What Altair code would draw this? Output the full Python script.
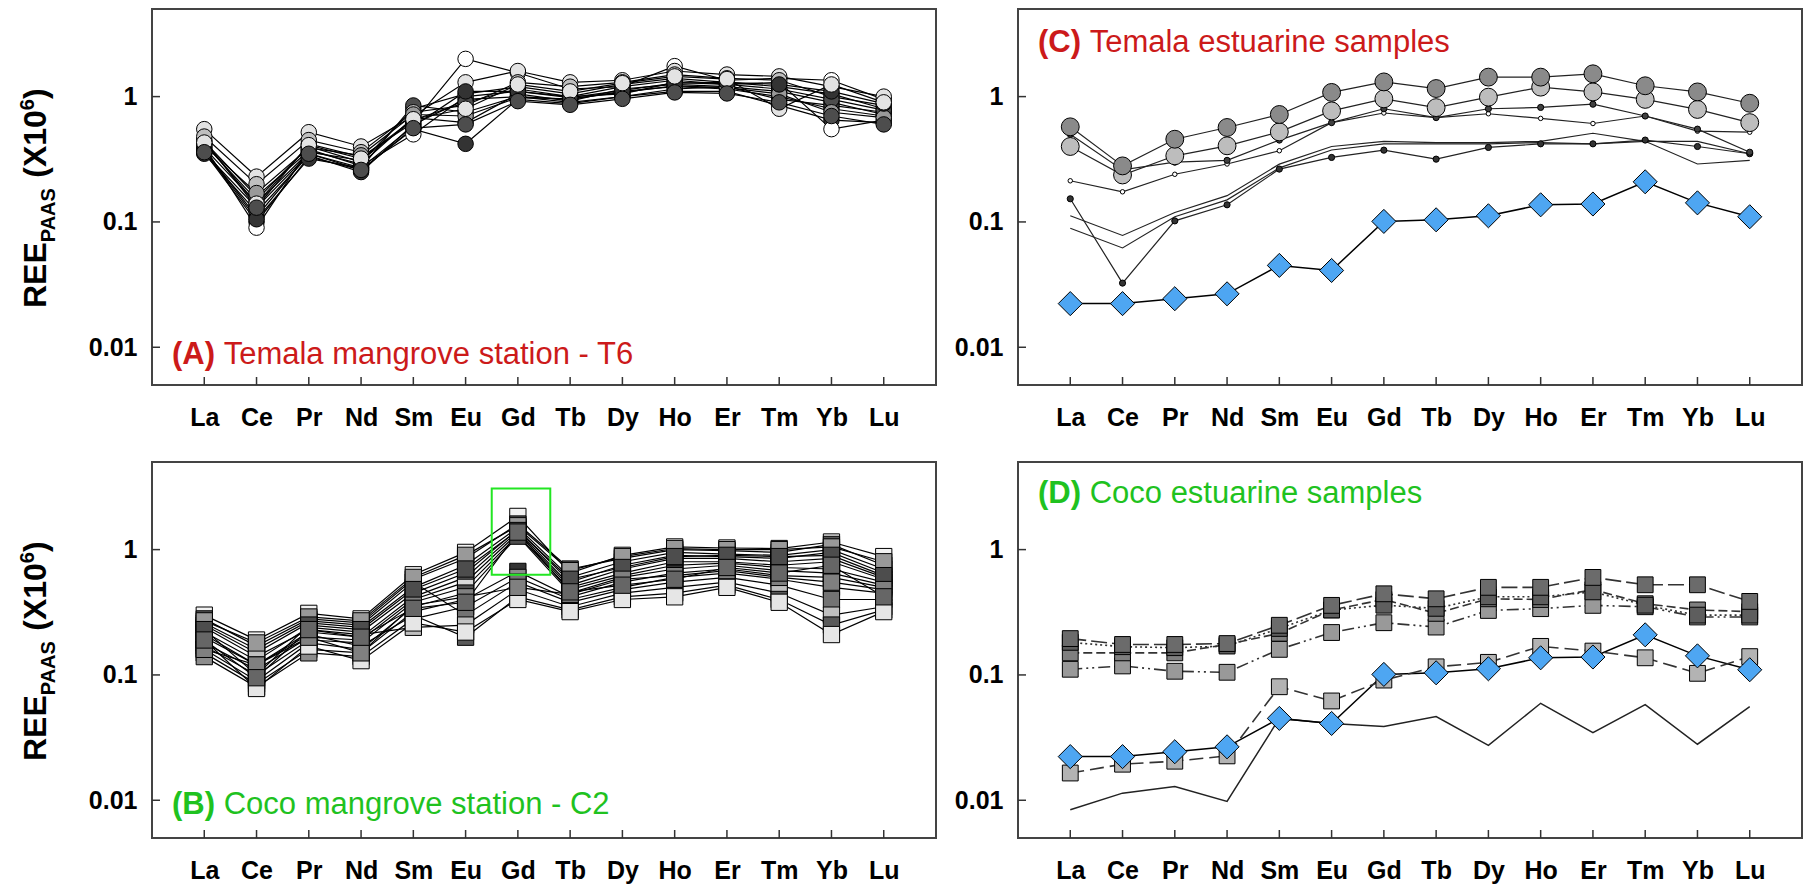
import altair as alt
import pandas as pd

FONT = "Liberation Sans"
RED = "#cc1a1a"
GREEN = "#1fc21f"
BOX_GREEN = "#22e622"
BLUE_FILL = "#4ea6f2"

ELEMENTS = ["La", "Ce", "Pr", "Nd", "Sm", "Eu", "Gd", "Tb", "Dy", "Ho", "Er", "Tm", "Yb", "Lu"]
Y_TICKS = [1, 0.1, 0.01]

# ---------------- Panel A: Temala mangrove station - T6 ----------------
A1 = [0.45, 0.13, 0.42, 0.33, 0.62, 2.00, 1.55, 1.15, 1.20, 1.75, 1.35, 1.40, 1.35, 0.95]
A2 = [0.55, 0.23, 0.52, 0.40, 0.70, 1.30, 1.60, 1.30, 1.35, 1.60, 1.50, 1.45, 1.20, 1.00]
A3 = [0.36, 0.10, 0.33, 0.26, 0.55, 0.42, 0.95, 0.88, 1.00, 1.10, 1.10, 0.85, 0.65, 0.62]
A4 = [0.42, 0.15, 0.40, 0.30, 0.80, 1.05, 1.20, 1.05, 1.25, 1.40, 1.30, 1.20, 1.05, 0.80]
A5 = [0.38, 0.11, 0.35, 0.27, 0.85, 0.75, 1.00, 0.95, 1.10, 1.20, 1.15, 1.00, 0.80, 0.70]
A6 = [0.40, 0.09, 0.38, 0.28, 0.50, 1.00, 1.10, 1.00, 1.05, 1.30, 1.25, 1.30, 0.55, 0.65]
A7 = [0.44, 0.16, 0.37, 0.29, 0.68, 0.62, 1.05, 0.92, 1.15, 1.25, 1.20, 1.10, 0.90, 0.72]
A8 = [0.35, 0.12, 0.34, 0.25, 0.60, 0.95, 1.00, 0.90, 1.00, 1.15, 1.20, 0.95, 0.85, 0.75]
A9 = [0.48, 0.20, 0.45, 0.36, 0.75, 0.85, 1.30, 1.20, 1.30, 1.50, 1.40, 1.35, 1.00, 0.85]
A10 = [0.39, 0.14, 0.36, 0.31, 0.65, 0.90, 1.15, 1.00, 1.20, 1.35, 1.25, 1.15, 0.95, 0.78]
A11 = [0.41, 0.17, 0.39, 0.34, 0.72, 0.70, 0.98, 0.96, 1.08, 1.22, 1.18, 1.05, 0.75, 0.68]
A12 = [0.37, 0.105, 0.32, 0.27, 0.58, 1.10, 1.10, 0.98, 1.12, 1.28, 1.30, 1.25, 1.10, 0.88]
A13 = [0.43, 0.14, 0.41, 0.32, 0.66, 0.80, 1.25, 1.10, 1.28, 1.45, 1.38, 0.80, 1.25, 0.90]
A14 = [0.36, 0.13, 0.35, 0.26, 0.56, 0.60, 0.92, 0.86, 0.96, 1.08, 1.06, 0.90, 0.70, 0.60]

# ---------------- Panel B: Coco mangrove station - C2 ----------------
B1 = [0.30, 0.19, 0.31, 0.28, 0.63, 0.95, 1.84, 0.65, 0.90, 1.05, 1.03, 1.02, 1.15, 0.88]
B2 = [0.28, 0.17, 0.28, 0.26, 0.58, 0.85, 1.60, 0.70, 0.85, 1.00, 0.98, 0.95, 1.10, 0.75]
B3 = [0.25, 0.15, 0.26, 0.24, 0.50, 0.75, 1.50, 0.60, 0.80, 0.95, 0.92, 0.90, 1.00, 0.70]
B4 = [0.22, 0.13, 0.24, 0.22, 0.45, 0.65, 1.45, 0.55, 0.75, 0.90, 0.88, 0.85, 0.95, 0.65]
B5 = [0.20, 0.12, 0.22, 0.20, 0.42, 0.60, 1.40, 0.52, 0.70, 0.85, 0.85, 0.80, 0.85, 0.60]
B6 = [0.18, 0.11, 0.20, 0.19, 0.40, 0.55, 1.35, 0.50, 0.65, 0.80, 0.80, 0.75, 0.80, 0.58]
B7 = [0.17, 0.10, 0.19, 0.18, 0.38, 0.50, 1.30, 0.48, 0.62, 0.75, 0.78, 0.72, 0.70, 0.55]
B8 = [0.16, 0.09, 0.18, 0.16, 0.35, 0.45, 1.28, 0.45, 0.60, 0.70, 0.75, 0.68, 0.65, 0.52]
B9 = [0.15, 0.085, 0.16, 0.15, 0.32, 0.40, 0.67, 0.42, 0.55, 0.65, 0.70, 0.62, 0.60, 0.50]
B10 = [0.14, 0.08, 0.15, 0.14, 0.28, 0.35, 0.60, 0.40, 0.50, 0.60, 0.65, 0.58, 0.50, 0.45]
B11 = [0.26, 0.16, 0.27, 0.25, 0.55, 0.30, 0.55, 0.38, 0.48, 0.55, 0.60, 0.52, 0.40, 0.40]
B12 = [0.24, 0.14, 0.23, 0.21, 0.24, 0.25, 0.48, 0.35, 0.45, 0.50, 0.55, 0.45, 0.30, 0.35]
B13 = [0.21, 0.12, 0.21, 0.17, 0.30, 0.20, 0.42, 0.33, 0.42, 0.45, 0.52, 0.40, 0.25, 0.33]
B14 = [0.19, 0.078, 0.17, 0.13, 0.26, 0.22, 0.40, 0.32, 0.40, 0.42, 0.50, 0.38, 0.21, 0.32]
B15 = [0.27, 0.18, 0.29, 0.27, 0.60, 0.90, 1.55, 0.68, 0.88, 1.02, 1.00, 1.00, 1.05, 0.80]
B16 = [0.23, 0.10, 0.25, 0.23, 0.48, 0.70, 1.42, 0.58, 0.72, 0.88, 0.90, 0.88, 0.90, 0.62]
B17 = [0.16, 0.12, 0.20, 0.15, 0.36, 0.42, 0.50, 0.44, 0.58, 0.62, 0.68, 0.60, 0.55, 0.48]
B18 = [0.19, 0.095, 0.23, 0.20, 0.34, 0.38, 1.38, 0.46, 0.52, 0.58, 0.72, 0.65, 0.75, 0.42]
GD_BOX_X = [5.5, 6.62]
GD_BOX_Y = [0.63, 3.07]

# ---------------- Panel C: Temala estuarine samples ----------------
BLUE = [0.0223, 0.0223, 0.0244, 0.0267, 0.045, 0.041, 0.101, 0.104, 0.112, 0.137, 0.139, 0.209, 0.142, 0.110]
C1 = [0.574, 0.28, 0.457, 0.567, 0.72, 1.08, 1.31, 1.16, 1.43, 1.43, 1.52, 1.22, 1.09, 0.885]
C2 = [0.40, 0.237, 0.337, 0.405, 0.523, 0.769, 0.96, 0.817, 0.99, 1.19, 1.09, 0.95, 0.79, 0.62]
C3 = [0.50, 0.26, 0.30, 0.31, 0.45, 0.62, 0.80, 0.68, 0.80, 0.82, 0.87, 0.70, 0.55, 0.36]
C4 = [0.213, 0.174, 0.24, 0.29, 0.37, 0.62, 0.74, 0.68, 0.73, 0.67, 0.61, 0.70, 0.53, 0.52]
C5 = [0.153, 0.0325, 0.102, 0.137, 0.264, 0.327, 0.374, 0.317, 0.393, 0.42, 0.42, 0.45, 0.40, 0.35]
C6 = [0.112, 0.078, 0.119, 0.162, 0.289, 0.40, 0.44, 0.43, 0.43, 0.44, 0.51, 0.44, 0.29, 0.31]
C7 = [0.089, 0.062, 0.11, 0.15, 0.27, 0.375, 0.42, 0.42, 0.42, 0.43, 0.42, 0.44, 0.44, 0.35]

# ---------------- Panel D: Coco estuarine samples ----------------
D1 = [0.195, 0.175, 0.175, 0.178, 0.249, 0.359, 0.444, 0.405, 0.50, 0.50, 0.60, 0.524, 0.524, 0.386]
D2 = [0.182, 0.168, 0.165, 0.170, 0.235, 0.330, 0.360, 0.340, 0.420, 0.420, 0.460, 0.360, 0.300, 0.300]
D3 = [0.150, 0.150, 0.150, 0.175, 0.215, 0.330, 0.400, 0.310, 0.405, 0.400, 0.480, 0.370, 0.330, 0.320]
D4 = [0.111, 0.118, 0.107, 0.105, 0.160, 0.218, 0.261, 0.241, 0.327, 0.338, 0.359, 0.350, 0.290, 0.290]
D5 = [0.0165, 0.0194, 0.0205, 0.0226, 0.0805, 0.062, 0.091, 0.116, 0.126, 0.169, 0.155, 0.137, 0.103, 0.140]
D6 = [0.0084, 0.0114, 0.0129, 0.0098, 0.045, 0.041, 0.0387, 0.0465, 0.0274, 0.0594, 0.0347, 0.058, 0.028, 0.0558]


# ---------------- styles (kept apart from the data) ----------------
def sty(fill=None, shape="circle", size=240, lw=1.2, dash=None, lc="black"):
    return {"fill": fill, "shape": shape, "size": size, "lw": lw, "dash": dash, "lc": lc}


A_SERIES = [
    ("A1", A1, sty("#ffffff")), ("A2", A2, sty("#e3e3e3")), ("A3", A3, sty("#333333")),
    ("A4", A4, sty("#999999")), ("A5", A5, sty("#4d4d4d")), ("A6", A6, sty("#ffffff")),
    ("A7", A7, sty("#737373")), ("A8", A8, sty("#333333")), ("A9", A9, sty("#bfbfbf")),
    ("A10", A10, sty("#4d4d4d")), ("A11", A11, sty("#999999")), ("A12", A12, sty("#333333")),
    ("A13", A13, sty("#e3e3e3")), ("A14", A14, sty("#4d4d4d")),
]
SQ = 265
B_FILLS = ["#f2f2f2", "#595959", "#808080", "#404040", "#a6a6a6", "#666666", "#d9d9d9", "#4d4d4d",
           "#333333", "#8c8c8c", "#737373", "#bfbfbf", "#595959", "#e6e6e6", "#999999", "#4d4d4d",
           "#808080", "#666666"]
B_DATA = [B1, B2, B3, B4, B5, B6, B7, B8, B9, B10, B11, B12, B13, B14, B15, B16, B17, B18]
B_SERIES = [("B%d" % (i + 1), vals, sty(f, "square", SQ, 1.2)) for i, (vals, f) in enumerate(zip(B_DATA, B_FILLS))]

C_SERIES = [
    ("C6", C6, sty(None, lc="#222222")), ("C7", C7, sty(None, lc="#222222")),
    ("C5", C5, sty("#333333", size=38, lc="#222222")),
    ("C4", C4, sty("#ffffff", size=20, lc="#222222")),
    ("C3", C3, sty("#404040", size=38, lc="#222222")),
    ("C2", C2, sty("#bdbdbd", size=320, lc="#222222")),
    ("C1", C1, sty("#8a8a8a", size=320, lc="#222222")),
    ("CB", BLUE, sty(BLUE_FILL, "diamond", 580, lw=1.5)),
]
DS = 250
D_SERIES = [
    ("D6", D6, sty(None, lw=1.5, lc="#222222")),
    ("D5", D5, sty("#b3b3b3", "square", DS, 1.6, [14, 6], "#333333")),
    ("D4", D4, sty("#999999", "square", DS, 1.6, [12, 4, 2, 4, 2, 4], "#333333")),
    ("D3", D3, sty("#7f7f7f", "square", DS, 1.6, [9, 4], "#333333")),
    ("D2", D2, sty("#5e5e5e", "square", DS, 1.6, [2, 3], "#333333")),
    ("D1", D1, sty("#6b6b6b", "square", DS, 1.6, [16, 5], "#333333")),
    ("DB", BLUE, sty(BLUE_FILL, "diamond", 580, lw=1.5)),
]

# ---------------- geometry ----------------
W, H = 784, 376
XS = alt.Scale(domain=[-1, 14], nice=False, zero=False)
YS = alt.Scale(type="log", domain=[0.005, 5], nice=False)
LABEL_EXPR = "[" + ",".join("'%s'" % e for e in ELEMENTS) + "][datum.value]"
XAX = alt.Axis(values=list(range(len(ELEMENTS))), labelExpr=LABEL_EXPR, title=None, ticks=False,
               domain=False, grid=False, labelFont=FONT, labelFontSize=25, labelFontWeight="bold",
               labelColor="black", labelPadding=20, labelAngle=0, labelFlush=False, labelOverlap=False)
YAX = alt.Axis(values=Y_TICKS, format="~g", title=None, ticks=False, domain=False, grid=False,
               labelFont=FONT, labelFontSize=25, labelFontWeight="bold", labelColor="black",
               labelPadding=15, labelFlush=False, labelOverlap=False)

ARIAL_BOLD = {"R": 722, "E": 667, "P": 667, "A": 722, "S": 667, " ": 278, "(": 333,
              "X": 667, "1": 556, "0": 556, "6": 556, ")": 333, "B": 722, "C": 722, "D": 722}


def tw(s, size):
    return sum(ARIAL_BOLD[c] for c in s) / 1000.0 * size


def text_layer(txt, x, y, size, color="black", bold=False, angle=0):
    kw = dict(align="left", baseline="alphabetic", font=FONT, fontSize=size, color=color,
              fontWeight="bold" if bold else "normal")
    if angle:
        kw["angle"] = angle
    return alt.Chart(pd.DataFrame({"t": [txt]})).mark_text(**kw).encode(
        text="t:N", x=alt.value(x), y=alt.value(y))


def ytitle_layers():
    bx, y0 = -105.7, 299.0
    layers = []
    cur = y0
    for txt, size, shift, adv_before in [("REE", 32, 0, 0), ("PAAS", 20, 9, 0), ("(X10", 32, 0, tw(" ", 32)),
                                          ("6", 20, -12, 0), (")", 32, 0, 0)]:
        cur -= adv_before
        layers.append(text_layer(txt, bx + shift, cur, size, bold=True, angle=270))
        cur -= tw(txt, size)
    # invisible anchor fixing the left edge of the figure
    layers.append(alt.Chart(pd.DataFrame({"a": [0]})).mark_rule(opacity=0, strokeOpacity=0).encode(
        x=alt.value(-142.7), x2=alt.value(-142.7), y=alt.value(100), y2=alt.value(120)))
    return layers


def annotation(letter, rest, color, y):
    x0 = 20
    pre = "(%s)" % letter
    return [text_layer(pre, x0, y, 31, color, bold=True),
            text_layer(rest, x0 + tw(pre + " ", 31), y, 31, color)]


def panel(series, annots, extra=()):
    x = alt.X("idx:Q", scale=XS, axis=XAX)
    y = alt.Y("value:Q", scale=YS, axis=YAX)
    solid_rows, prow = [], []
    dashed_layers = []
    for name, vals, st in series:
        rows = [{"series": name, "idx": i, "value": v, "lw": st["lw"], "lc": st["lc"]} for i, v in enumerate(vals)]
        if st["dash"] is None:
            solid_rows.extend(rows)
        else:
            dashed_layers.append(alt.Chart(pd.DataFrame(rows)).mark_line(
                strokeDash=st["dash"], strokeWidth=st["lw"], color=st["lc"]).encode(
                x=x, y=y, order=alt.Order("idx:Q")))
        if st["fill"] is not None:
            for r in rows:
                prow.append(dict(r, fill=st["fill"], shape=st["shape"], size=st["size"], order=len(prow)))
    layers = []
    if solid_rows:
        layers.append(alt.Chart(pd.DataFrame(solid_rows)).mark_line().encode(
            x=x, y=y, detail="series:N",
            strokeWidth=alt.StrokeWidth("lw:Q", scale=None),
            color=alt.Color("lc:N", scale=None),
            order=alt.Order("idx:Q")))
    layers += dashed_layers
    layers.append(alt.Chart(pd.DataFrame(prow)).mark_point(filled=True, opacity=1, stroke="black", strokeWidth=1).encode(
        x=x, y=y,
        fill=alt.Fill("fill:N", scale=None),
        shape=alt.Shape("shape:N", scale=None),
        size=alt.Size("size:Q", scale=None),
        order=alt.Order("order:Q")))
    xt = alt.Chart(pd.DataFrame({"idx": list(range(len(ELEMENTS)))})).mark_rule(
        color="#333333", strokeWidth=1.5).encode(x=x, y=alt.value(H), y2=alt.value(H - 8))
    yt = alt.Chart(pd.DataFrame({"value": Y_TICKS})).mark_rule(
        color="#333333", strokeWidth=1.5).encode(y=y, x=alt.value(0), x2=alt.value(8))
    layers += [xt, yt] + list(extra) + annots
    return alt.layer(*layers).properties(width=W, height=H)


gd_box = alt.Chart(pd.DataFrame({"idx": [GD_BOX_X[0]], "idx2": [GD_BOX_X[1]],
                                 "value": [GD_BOX_Y[0]], "value2": [GD_BOX_Y[1]]})).mark_rect(
    fill="white", fillOpacity=0, stroke=BOX_GREEN, strokeWidth=2).encode(
    x=alt.X("idx:Q", scale=XS, axis=XAX), x2="idx2:Q",
    y=alt.Y("value:Q", scale=YS, axis=YAX), y2="value2:Q")

pA = panel(A_SERIES, annotation("A", "Temala mangrove station - T6", RED, 355) + ytitle_layers())
pC = panel(C_SERIES, annotation("C", "Temala estuarine samples", RED, 43))
pB = panel(B_SERIES, annotation("B", "Coco mangrove station - C2", GREEN, 352) + ytitle_layers(), extra=[gd_box])
pD = panel(D_SERIES, annotation("D", "Coco estuarine samples", GREEN, 41))

chart = alt.concat(pA, pC, pB, pD, columns=2, spacing={"row": 77, "column": 82}, bounds="flush").properties(
    padding={"left": 0, "top": 0, "right": 0, "bottom": 0}
).configure(font=FONT, background="white").configure_view(stroke="#444444", strokeWidth=2)

chart.save("out.html", embed_options={"renderer": "svg", "actions": False})
